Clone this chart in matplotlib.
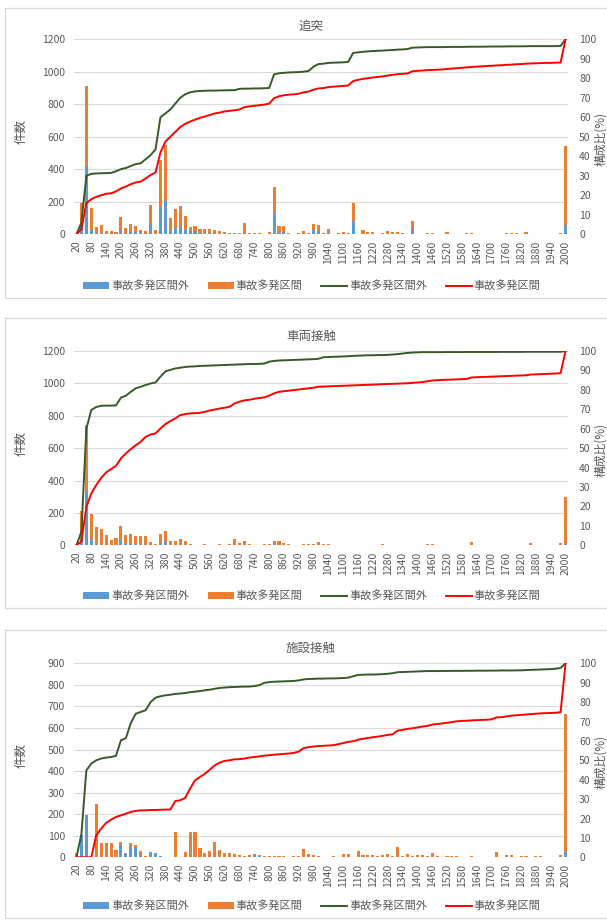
import numpy as np
import matplotlib
matplotlib.use("Agg")
import matplotlib.pyplot as plt
from matplotlib.patches import Rectangle, Patch
from matplotlib.lines import Line2D

plt.rcParams['font.family'] = ['Noto Sans CJK JP', 'DejaVu Sans']

# distance classes (m); the last class collects everything from 2000 m on
categories = list(range(20, 2001, 20))

series_names = ['事故多発区間外', '事故多発区間']

# ---- 追突 ----
rear_out = [0, 50, 422, 25, 5, 8, 3, 3, 3, 25, 5, 12, 15, 5, 5, 66, 5, 165, 206, 20,
            40, 50, 30, 18, 18, 8, 5, 5, 4, 3, 2, 2, 1, 1, 8, 1, 1, 1, 0, 3,
            132, 10, 12, 2, 0, 1, 3, 2, 25, 22, 1, 5, 0, 1, 2, 2, 80, 0, 3, 2,
            2, 0, 1, 3, 2, 2, 1, 0, 25, 0, 0, 1, 0, 0, 0, 1, 0, 0, 0, 0,
            0, 0, 0, 0, 0, 0, 0, 0, 0, 0, 0, 0, 0, 0, 0, 0, 0, 0, 0, 58]
rear_in = [3, 145, 488, 135, 40, 52, 19, 18, 14, 82, 33, 54, 35, 19, 17, 116, 19, 295, 344, 83,
           115, 122, 85, 24, 34, 25, 27, 27, 24, 17, 10, 8, 7, 5, 64, 9, 7, 5, 4, 13,
           156, 40, 40, 8, 3, 5, 17, 8, 37, 36, 7, 30, 4, 7, 12, 8, 110, 4, 21, 14,
           10, 4, 7, 19, 14, 12, 5, 4, 57, 2, 4, 5, 5, 3, 2, 11, 2, 2, 4, 5,
           6, 3, 2, 4, 2, 1, 2, 6, 6, 5, 2, 12, 2, 3, 1, 1, 2, 4, 5, 483]
rear_cum_out = [0, 6, 30, 31, 31.2, 31.3, 31.4, 31.5, 32.3, 33.4, 34, 35, 36, 36.4, 38.5, 40.6, 43.5, 60, 62, 64,
                67, 70, 71.8, 72.8, 73.3, 73.5, 73.6, 73.7, 73.7, 73.8, 73.8, 73.9, 73.9, 74.6, 74.7, 74.7, 74.8, 74.8, 74.9, 75,
                82, 82.6, 82.8, 83, 83.1, 83.2, 83.4, 83.8, 86, 87.3, 87.5, 87.9, 88, 88.1, 88.2, 88.4, 93, 93.3, 93.6, 93.8,
                94, 94.1, 94.2, 94.4, 94.5, 94.7, 94.8, 95, 95.7, 95.8, 95.9, 96, 96, 96, 96, 96.05, 96.1, 96.1, 96.1, 96.15,
                96.2, 96.2, 96.2, 96.25, 96.3, 96.3, 96.3, 96.35, 96.4, 96.4, 96.4, 96.45, 96.5, 96.5, 96.5, 96.5, 96.5, 96.5, 96.6, 100]
rear_cum_in = [0, 2.6, 16, 18, 19.2, 20, 20.8, 21, 22, 23.5, 24.5, 25.7, 26.6, 27, 28.6, 30.4, 31.7, 42, 47.5, 50,
               52.5, 55, 56.6, 57.8, 58.8, 59.7, 60.4, 61.2, 62, 62.4, 63, 63.3, 63.6, 64, 65.2, 65.6, 65.9, 66.2, 66.5, 67,
               69.8, 70.8, 71.3, 71.6, 71.8, 72.1, 72.8, 73.2, 74.2, 74.8, 75, 75.5, 75.7, 75.9, 76.1, 76.3, 78.6, 79.2, 79.7, 80.1,
               80.4, 80.7, 81, 81.4, 81.8, 82.1, 82.3, 82.5, 83.6, 83.8, 84, 84.2, 84.3, 84.4, 84.5, 84.8, 85, 85.2, 85.4, 85.6,
               85.8, 86, 86.1, 86.3, 86.4, 86.6, 86.7, 86.9, 87, 87.2, 87.3, 87.5, 87.6, 87.7, 87.8, 87.9, 87.9, 88, 88.1, 100]

# ---- 車両接触 ----
veh_out = [0, 41, 336, 31, 5, 3, 2, 2, 3, 31, 8, 10, 5, 3, 3, 2, 1, 16, 20, 3,
           3, 3, 2, 1, 0, 0, 0, 0, 0, 0, 0, 0, 3, 1, 2, 0, 0, 0, 0, 0,
           6, 3, 0, 0, 0, 0, 0, 0, 0, 2, 0, 0, 0, 0, 0, 0, 0, 0, 0, 0,
           0, 0, 0, 0, 0, 0, 0, 0, 0, 0, 0, 0, 0, 0, 0, 0, 0, 0, 0, 0,
           0, 0, 0, 0, 0, 0, 0, 0, 0, 0, 0, 0, 0, 0, 0, 0, 0, 0, 0, 5]
veh_in = [5, 171, 406, 161, 108, 100, 60, 29, 44, 91, 54, 58, 53, 55, 55, 19, 9, 54, 67, 24,
          26, 34, 23, 7, 3, 3, 6, 4, 3, 8, 4, 6, 38, 15, 23, 5, 3, 4, 5, 10,
          23, 26, 12, 10, 3, 2, 6, 8, 5, 16, 6, 5, 3, 2, 4, 4, 2, 3, 4, 3,
          4, 3, 5, 2, 3, 2, 3, 2, 3, 3, 2, 8, 8, 2, 1, 1, 2, 1, 1, 2,
          18, 2, 1, 1, 1, 1, 1, 1, 1, 1, 2, 3, 15, 1, 1, 2, 3, 4, 15, 292]
veh_cum_out = [0, 7, 60, 69.6, 71.2, 71.8, 71.9, 71.9, 72, 76, 77, 79, 80.8, 81.6, 82.5, 83.3, 83.8, 86.8, 89.5, 90.3,
               91, 91.4, 91.8, 92, 92.1, 92.3, 92.4, 92.5, 92.6, 92.7, 92.8, 92.9, 93, 93.1, 93.2, 93.3, 93.3, 93.4, 93.5, 94.5,
               94.9, 95.1, 95.2, 95.3, 95.4, 95.5, 95.6, 95.7, 95.8, 96, 96.8, 96.9, 97, 97.1, 97.2, 97.3, 97.5, 97.6, 97.7, 97.8,
               97.8, 97.9, 97.9, 98, 98.2, 98.4, 98.7, 99, 99.2, 99.3, 99.4, 99.4, 99.4, 99.4, 99.4, 99.45, 99.45, 99.45, 99.45, 99.5,
               99.5, 99.5, 99.5, 99.5, 99.5, 99.5, 99.55, 99.55, 99.55, 99.55, 99.55, 99.6, 99.6, 99.6, 99.6, 99.6, 99.6, 99.6, 99.6, 100]
veh_cum_in = [0, 2, 19.8, 26.6, 31, 34.7, 37.5, 39.2, 40.9, 44.7, 47.3, 49.5, 51.5, 53.3, 55.8, 57, 57.6, 60.1, 62.4, 63.9,
              65.3, 67, 67.5, 67.9, 68, 68.2, 68.7, 69.4, 69.9, 70.4, 70.8, 71.3, 73, 73.9, 74.6, 74.9, 75.4, 75.8, 76.1, 77,
              78.2, 79, 79.3, 79.6, 79.9, 80.2, 80.5, 80.8, 81.1, 81.6, 81.7, 81.8, 81.9, 82, 82.1, 82.2, 82.3, 82.4, 82.5, 82.6,
              82.7, 82.8, 82.9, 83, 83.1, 83.2, 83.3, 83.4, 83.6, 83.8, 84, 84.4, 84.8, 85, 85.1, 85.2, 85.3, 85.4, 85.5, 85.6,
              86.4, 86.5, 86.6, 86.7, 86.8, 86.9, 87, 87.1, 87.2, 87.3, 87.4, 87.5, 87.9, 88, 88.1, 88.2, 88.3, 88.4, 88.6, 100]

# ---- 施設接触 ----
fac_out = [0, 102, 198, 3, 0, 2, 2, 2, 2, 56, 15, 53, 45, 5, 2, 26, 20, 8, 3, 1,
           0, 0, 2, 0, 0, 2, 2, 2, 3, 2, 1, 1, 1, 0, 0, 0, 10, 8, 2, 2,
           2, 1, 1, 1, 1, 1, 2, 1, 1, 0, 0, 0, 0, 0, 0, 0, 1, 2, 1, 1,
           0, 1, 0, 1, 0, 1, 0, 1, 0, 1, 0, 0, 1, 0, 0, 0, 0, 0, 0, 0,
           0, 0, 0, 0, 0, 0, 0, 0, 0, 0, 0, 0, 0, 0, 0, 0, 0, 0, 0, 23]
fac_in = [20, 0, 0, 0, 246, 64, 64, 64, 34, 17, 5, 13, 14, 24, 3, 0, 0, 0, 0, 1,
          116, 3, 24, 116, 116, 41, 20, 26, 68, 34, 19, 19, 16, 9, 8, 12, 7, 4, 3, 2,
          4, 4, 3, 2, 5, 4, 38, 13, 8, 5, 3, 3, 4, 3, 17, 17, 2, 26, 11, 11,
          11, 4, 9, 14, 4, 49, 4, 13, 5, 8, 11, 4, 18, 5, 3, 6, 8, 7, 2, 1,
          6, 2, 1, 2, 3, 23, 2, 9, 9, 3, 5, 4, 3, 5, 4, 3, 2, 3, 9, 642]
fac_cum_out = [0, 12, 44.8, 48.3, 50, 50.9, 51.4, 51.7, 52.3, 60.3, 61.4, 69.2, 74, 74.9, 75.8, 80, 82.3, 83, 83.5, 83.8,
               84.2, 84.4, 84.7, 85.1, 85.4, 85.7, 86.1, 86.4, 86.9, 87.3, 87.5, 87.7, 87.8, 87.9, 88, 88, 88.3, 88.7, 89.9, 90.3,
               90.5, 90.6, 90.7, 90.8, 90.9, 91.2, 91.7, 91.9, 92, 92.1, 92.1, 92.2, 92.2, 92.3, 92.4, 92.6, 93.3, 94, 94.1, 94.2,
               94.2, 94.3, 94.4, 94.6, 94.9, 95.4, 95.5, 95.6, 95.7, 95.8, 95.9, 96, 96, 96, 96.05, 96.05, 96.1, 96.1, 96.1, 96.15,
               96.15, 96.2, 96.2, 96.2, 96.25, 96.25, 96.3, 96.3, 96.3, 96.35, 96.4, 96.5, 96.6, 96.7, 96.8, 96.9, 97, 97.2, 97.6, 100]
fac_cum_in = [0, 0, 0, 0, 11.3, 14.8, 17.7, 19.4, 20.8, 21.6, 22.5, 23.4, 23.9, 24.2, 24.2, 24.4, 24.4, 24.5, 24.6, 24.6,
              29, 29.4, 30.6, 35.4, 39.7, 41.4, 43.1, 45.2, 47.4, 48.8, 49.7, 50, 50.5, 50.6, 50.9, 51.4, 51.7, 52, 52.4, 52.6,
              52.9, 53.1, 53.3, 53.5, 53.8, 54.5, 56.3, 56.8, 57.1, 57.3, 57.5, 57.6, 57.8, 58.3, 58.9, 59.5, 59.8, 60.6, 61.1, 61.5,
              61.9, 62.2, 62.6, 63.1, 63.4, 65.3, 65.6, 66.2, 66.5, 66.9, 67.4, 67.7, 68.4, 68.7, 69, 69.3, 69.7, 70.1, 70.3, 70.4,
              70.6, 70.7, 70.8, 70.9, 71.1, 72.1, 72.2, 72.6, 73, 73.2, 73.4, 73.6, 73.8, 74, 74.2, 74.3, 74.4, 74.5, 74.8, 100]

panels = [
    ('追突', rear_out, rear_in, rear_cum_out, rear_cum_in, 1200, 200),
    ('車両接触', veh_out, veh_in, veh_cum_out, veh_cum_in, 1200, 200),
    ('施設接触', fac_out, fac_in, fac_cum_out, fac_cum_in, 900, 100),
]

W, H = 607, 921
C_BLUE = '#5B9BD5'
C_ORANGE = '#ED7D31'
C_GREEN = '#375A28'
C_RED = '#FF0000'
C_TEXT = '#595959'
C_GRID = '#D9D9D9'

fig = plt.figure(figsize=(W / 100, H / 100), dpi=100)
fig.patch.set_facecolor('white')


def fx(x):
    return x / W


def fy(y):
    return 1 - y / H


# pixel layout of each panel: frame top/bottom, plot top/bottom
layout = [
    (8, 298, 39.3, 234.3),
    (318, 608, 351.0, 545.3),
    (630, 918, 663.3, 857.3),
]
PL, PR = 74, 568

x = np.arange(len(categories))

for (title, s_out, s_in, c_out, c_in, ymax, ystep), (ftop, fbot, ptop, pbot) in zip(panels, layout):
    fig.add_artist(Rectangle((fx(5), fy(fbot)), fx(612 - 5), (fbot - ftop) / H,
                             transform=fig.transFigure, fill=False,
                             edgecolor=C_GRID, linewidth=0.9))

    ax = fig.add_axes([fx(PL), fy(pbot), fx(PR - PL), (pbot - ptop) / H])
    ax.bar(x, s_out, width=0.62, color=C_BLUE, zorder=2)
    ax.bar(x, s_in, width=0.62, bottom=s_out, color=C_ORANGE, zorder=2)
    ax.set_xlim(-0.5, len(categories) - 0.5)
    ax.set_ylim(0, ymax)
    ax.set_yticks(np.arange(0, ymax + 1, ystep))
    ax.yaxis.grid(True, color=C_GRID, linewidth=0.8, zorder=0)
    ax.set_axisbelow(True)
    for sp in ax.spines.values():
        sp.set_visible(False)
    ax.set_xticks(x[::3])
    ax.set_xticklabels([str(c) for c in categories[::3]], rotation=90)
    ax.tick_params(axis='x', length=0, pad=4.5, labelsize=7.5, labelcolor=C_TEXT)
    ax.tick_params(axis='y', length=0, pad=6.5, labelsize=7.5, labelcolor=C_TEXT)
    ax.set_facecolor('none')

    ax2 = ax.twinx()
    ax2.plot(x, c_out, color=C_GREEN, linewidth=1.4, zorder=3)
    ax2.plot(x, c_in, color=C_RED, linewidth=1.4, zorder=3)
    ax2.set_ylim(0, 100)
    ax2.set_yticks(np.arange(0, 101, 10))
    ax2.tick_params(axis='y', length=0, pad=8, labelsize=7.5, labelcolor=C_TEXT)
    for sp in ax2.spines.values():
        sp.set_visible(False)

    fig.text(fx(311), fy(ftop + 18), title, ha='center', va='center',
             fontsize=9, color=C_TEXT)
    fig.text(fx(21), fy((ptop + pbot) / 2 - 5), '件数', ha='center', va='center',
             rotation=90, fontsize=9, color=C_TEXT)
    fig.text(fx(600.5), fy((ptop + pbot) / 2 + 2), '構成比(%)', ha='center', va='center',
             rotation=90, fontsize=8.5, color=C_TEXT)

    handles = [Patch(facecolor=C_BLUE), Patch(facecolor=C_ORANGE),
               Line2D([], [], color=C_GREEN, linewidth=1.4),
               Line2D([], [], color=C_RED, linewidth=1.4)]
    labels = [series_names[0], series_names[1], series_names[0], series_names[1]]
    fig.legend(handles, labels, loc='center', bbox_to_anchor=(fx(312), fy(fbot - 12)),
               ncol=4, frameon=False, fontsize=8, handlelength=2.3, handleheight=0.5,
               handletextpad=0.2, columnspacing=1.7, labelcolor=C_TEXT)

fig.savefig('out.png', dpi=100, facecolor='white')
